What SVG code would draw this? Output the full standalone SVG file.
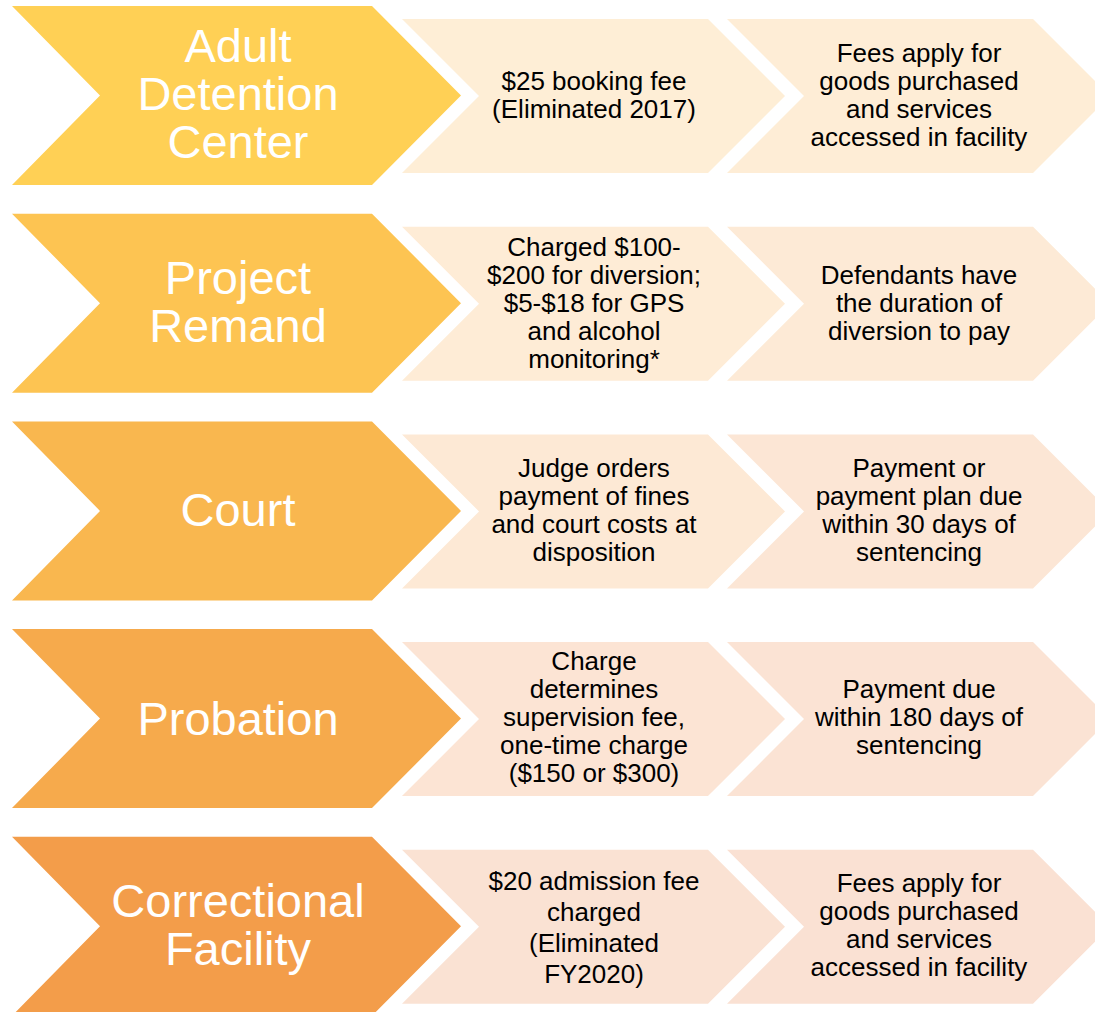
<svg xmlns="http://www.w3.org/2000/svg" width="1095" height="1012" viewBox="0 0 1095 1012">
<style>
.big{font-family:"Liberation Sans",Arial,sans-serif;font-size:47px;fill:#ffffff;text-anchor:middle}
.sm{font-family:"Liberation Sans",Arial,sans-serif;font-size:26px;fill:#000000;text-anchor:middle}
</style>
<rect width="1095" height="1012" fill="#ffffff"/>
<defs>
<path id="bigC" d="M0,0 L360,0 L449,89.5 L360,179 L0,179 L88,89.5 Z"/>
<path id="lightC" d="M0,0 L306,0 L383,77 L306,154 L0,154 L77,77 Z"/>
</defs>
<g id="connectors"></g>

<g id="row1" transform="translate(0,6)">
  <g id="adult-detention-center">
    <use href="#bigC" x="12" y="0" fill="#FFD055"/>
    <text class="big" x="238" y="56">Adult</text>
    <text class="big" x="238" y="104">Detention</text>
    <text class="big" x="238" y="152">Center</text>
  </g>
  <g id="adc-fee">
    <use href="#lightC" x="402" y="13" fill="#FEEED6"/>
    <text class="sm" x="594" y="84">$25 booking fee</text>
    <text class="sm" x="594" y="112">(Eliminated 2017)</text>
  </g>
  <g id="adc-payment">
    <use href="#lightC" x="727" y="13" fill="#FEEDD6"/>
    <text class="sm" x="919" y="56">Fees apply for</text>
    <text class="sm" x="919" y="84">goods purchased</text>
    <text class="sm" x="919" y="112">and services</text>
    <text class="sm" x="919" y="140">accessed in facility</text>
  </g>
</g>

<g id="row2" transform="translate(0,213.7)">
  <g id="project-remand">
    <use href="#bigC" x="12" y="0" fill="#FDC452"/>
    <text class="big" x="238" y="80">Project</text>
    <text class="big" x="238" y="128">Remand</text>
  </g>
  <g id="pr-fee">
    <use href="#lightC" x="402" y="13" fill="#FEECD6"/>
    <text class="sm" x="594" y="42">Charged $100-</text>
    <text class="sm" x="594" y="70">$200 for diversion;</text>
    <text class="sm" x="594" y="98">$5-$18 for GPS</text>
    <text class="sm" x="594" y="126">and alcohol</text>
    <text class="sm" x="594" y="154">monitoring*</text>
  </g>
  <g id="pr-payment">
    <use href="#lightC" x="727" y="13" fill="#FDEAD6"/>
    <text class="sm" x="919" y="70">Defendants have</text>
    <text class="sm" x="919" y="98">the duration of</text>
    <text class="sm" x="919" y="126">diversion to pay</text>
  </g>
</g>

<g id="row3" transform="translate(0,421.4)">
  <g id="court">
    <use href="#bigC" x="12" y="0" fill="#F9B74F"/>
    <text class="big" x="238" y="105">Court</text>
  </g>
  <g id="court-fee">
    <use href="#lightC" x="402" y="13" fill="#FDE9D5"/>
    <text class="sm" x="594" y="56">Judge orders</text>
    <text class="sm" x="594" y="84">payment of fines</text>
    <text class="sm" x="594" y="112">and court costs at</text>
    <text class="sm" x="594" y="140">disposition</text>
  </g>
  <g id="court-payment">
    <use href="#lightC" x="727" y="13" fill="#FCE6D5"/>
    <text class="sm" x="919" y="56">Payment or</text>
    <text class="sm" x="919" y="84">payment plan due</text>
    <text class="sm" x="919" y="112">within 30 days of</text>
    <text class="sm" x="919" y="140">sentencing</text>
  </g>
</g>

<g id="row4" transform="translate(0,629.1)">
  <g id="probation">
    <use href="#bigC" x="12" y="0" fill="#F6AA4C"/>
    <text class="big" x="238" y="106">Probation</text>
  </g>
  <g id="prob-fee">
    <use href="#lightC" x="402" y="13" fill="#FCE4D4"/>
    <text class="sm" x="594" y="41">Charge</text>
    <text class="sm" x="594" y="69">determines</text>
    <text class="sm" x="594" y="97">supervision fee,</text>
    <text class="sm" x="594" y="125">one-time charge</text>
    <text class="sm" x="594" y="153">($150 or $300)</text>
  </g>
  <g id="prob-payment">
    <use href="#lightC" x="727" y="13" fill="#FBE3D4"/>
    <text class="sm" x="919" y="69">Payment due</text>
    <text class="sm" x="919" y="97">within 180 days of</text>
    <text class="sm" x="919" y="125">sentencing</text>
  </g>
</g>

<g id="row5" transform="translate(0,836.8)">
  <g id="correctional-facility">
    <use href="#bigC" x="12" y="0" fill="#F39D4A"/>
    <text class="big" x="238" y="80">Correctional</text>
    <text class="big" x="238" y="128">Facility</text>
  </g>
  <g id="cf-fee">
    <use href="#lightC" x="402" y="13" fill="#FAE2D3"/>
    <text class="sm" x="594" y="53">$20 admission fee</text>
    <text class="sm" x="594" y="84">charged</text>
    <text class="sm" x="594" y="115">(Eliminated</text>
    <text class="sm" x="594" y="146">FY2020)</text>
  </g>
  <g id="cf-payment">
    <use href="#lightC" x="727" y="13" fill="#FAE1D3"/>
    <text class="sm" x="919" y="55">Fees apply for</text>
    <text class="sm" x="919" y="83">goods purchased</text>
    <text class="sm" x="919" y="111">and services</text>
    <text class="sm" x="919" y="139">accessed in facility</text>
  </g>
</g>
</svg>
